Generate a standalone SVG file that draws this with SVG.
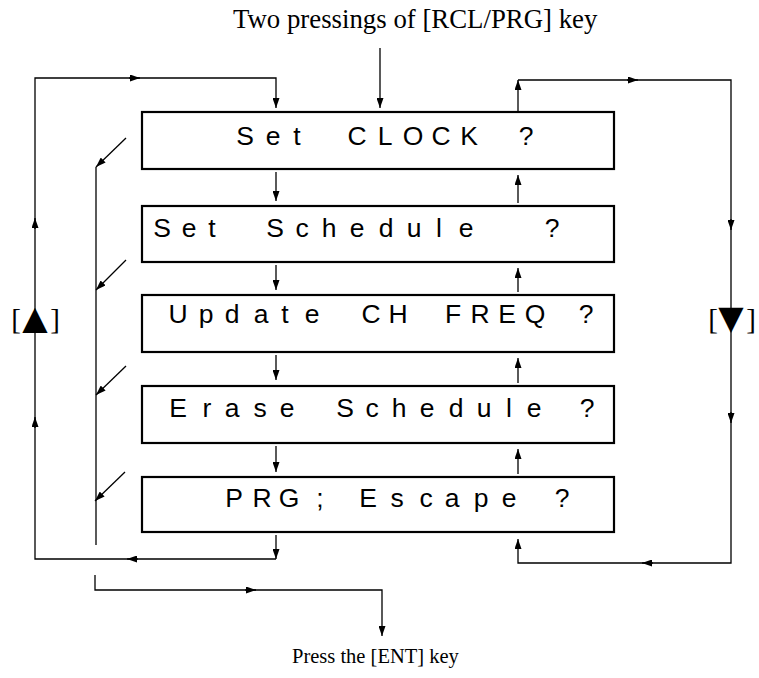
<svg xmlns="http://www.w3.org/2000/svg" width="759" height="678" viewBox="0 0 759 678">
<defs>
<style>
.box{fill:#fff;stroke:#000;stroke-width:2.2}
.lcd{font-family:"Liberation Sans",Arial,sans-serif;font-size:26.5px;fill:#000;text-anchor:middle}
.cap{font-family:"Liberation Serif","Times New Roman",serif;fill:#000}
.ln{fill:none;stroke:#000;stroke-width:1.3}
.key{font-family:"Liberation Serif","DejaVu Sans",serif;font-size:29px;fill:#000;text-anchor:middle}
.tri{font-family:"DejaVu Sans",sans-serif;font-size:33px}
</style>
<marker id="ah" markerWidth="10" markerHeight="7" refX="10" refY="3.5" orient="auto" markerUnits="userSpaceOnUse">
<path d="M0,0 L10,3.5 L0,7 z" fill="#000"/>
</marker>
</defs>
<rect width="759" height="678" fill="#fff"/>

<g id="connectors">
<line class="ln" x1="380" y1="48" x2="380" y2="108" marker-end="url(#ah)"/>
<path class="ln" d="M276,535 V559" marker-end="url(#ah)"/>
<path class="ln" d="M276,559 H35 V78 H276 V108" marker-end="url(#ah)"/>
<line class="ln" x1="138" y1="559" x2="127" y2="559" marker-end="url(#ah)"/>
<line class="ln" x1="35" y1="229" x2="35" y2="218" marker-end="url(#ah)"/>
<line class="ln" x1="35" y1="428" x2="35" y2="417" marker-end="url(#ah)"/>
<line class="ln" x1="129" y1="78" x2="140" y2="78" marker-end="url(#ah)"/>
<path class="ln" d="M518,112 V80" marker-end="url(#ah)"/>
<path class="ln" d="M518,80 H731 V563 H518 V539" marker-end="url(#ah)"/>
<line class="ln" x1="627" y1="80" x2="638" y2="80" marker-end="url(#ah)"/>
<line class="ln" x1="731" y1="219" x2="731" y2="230" marker-end="url(#ah)"/>
<line class="ln" x1="731" y1="412" x2="731" y2="423" marker-end="url(#ah)"/>
<line class="ln" x1="653" y1="563" x2="642" y2="563" marker-end="url(#ah)"/>
<line class="ln" x1="276" y1="172" x2="276" y2="201" marker-end="url(#ah)"/>
<line class="ln" x1="276" y1="265" x2="276" y2="290" marker-end="url(#ah)"/>
<line class="ln" x1="276" y1="355" x2="276" y2="380" marker-end="url(#ah)"/>
<line class="ln" x1="276" y1="446" x2="276" y2="472" marker-end="url(#ah)"/>
<line class="ln" x1="518" y1="203" x2="518" y2="175" marker-end="url(#ah)"/>
<line class="ln" x1="518" y1="292" x2="518" y2="268" marker-end="url(#ah)"/>
<line class="ln" x1="518" y1="383" x2="518" y2="358" marker-end="url(#ah)"/>
<line class="ln" x1="518" y1="474" x2="518" y2="449" marker-end="url(#ah)"/>
<path class="ln" d="M96,167 V545"/>
<line class="ln" x1="126" y1="138" x2="96" y2="167" marker-end="url(#ah)"/>
<line class="ln" x1="126" y1="260" x2="96" y2="290" marker-end="url(#ah)"/>
<line class="ln" x1="126" y1="366" x2="96" y2="395" marker-end="url(#ah)"/>
<line class="ln" x1="125" y1="472" x2="95" y2="501" marker-end="url(#ah)"/>
<path class="ln" d="M95,575 V590 H382 V636" marker-end="url(#ah)"/>
<line class="ln" x1="245" y1="590" x2="256" y2="590" marker-end="url(#ah)"/>
</g>

<g id="title">
<text class="cap" x="233" y="28" font-size="26.8">Two pressings of [RCL/PRG] key</text>
</g>
<g id="ent">
<text class="cap" x="292" y="663" font-size="20.5">Press the [ENT] key</text>
</g>

<g id="box1">
<rect class="box" x="142" y="112" width="472" height="57"/>
<text class="lcd" y="145" x="245 273 297 327 357 385 413 441 469 497 526">Set CLOCK ?</text>
</g>
<g id="box2">
<rect class="box" x="142" y="206" width="472" height="56"/>
<text class="lcd" y="237" x="162 189 212 245 275 302 329 357 386 414 439 466 510 552">Set Schedule ?</text>
</g>
<g id="box3">
<rect class="box" x="142" y="295" width="472" height="57"/>
<text class="lcd" y="323" x="178 206 232 261 285 312 341 371 398 425 453 480 507 535 560 586">Update CH FREQ ?</text>
</g>
<g id="box4">
<rect class="box" x="142" y="386" width="472" height="57"/>
<text class="lcd" y="417" x="178 207 232 260 287 316 345 372 399 427 456 484 509 534 560 587">Erase Schedule ?</text>
</g>
<g id="box5">
<rect class="box" x="142" y="477" width="472" height="55"/>
<text class="lcd" y="507" x="234 262 289 320 344 368 397 426 452 481 509 535 562">PRG; Escape ?</text>
</g>

<g id="key-up">
<text class="key" y="329" x="16 35 55">[<tspan class="tri">▲</tspan>]</text>
</g>
<g id="key-down">
<text class="key" y="329" x="713 731 751">[<tspan class="tri">▼</tspan>]</text>
</g>
</svg>
